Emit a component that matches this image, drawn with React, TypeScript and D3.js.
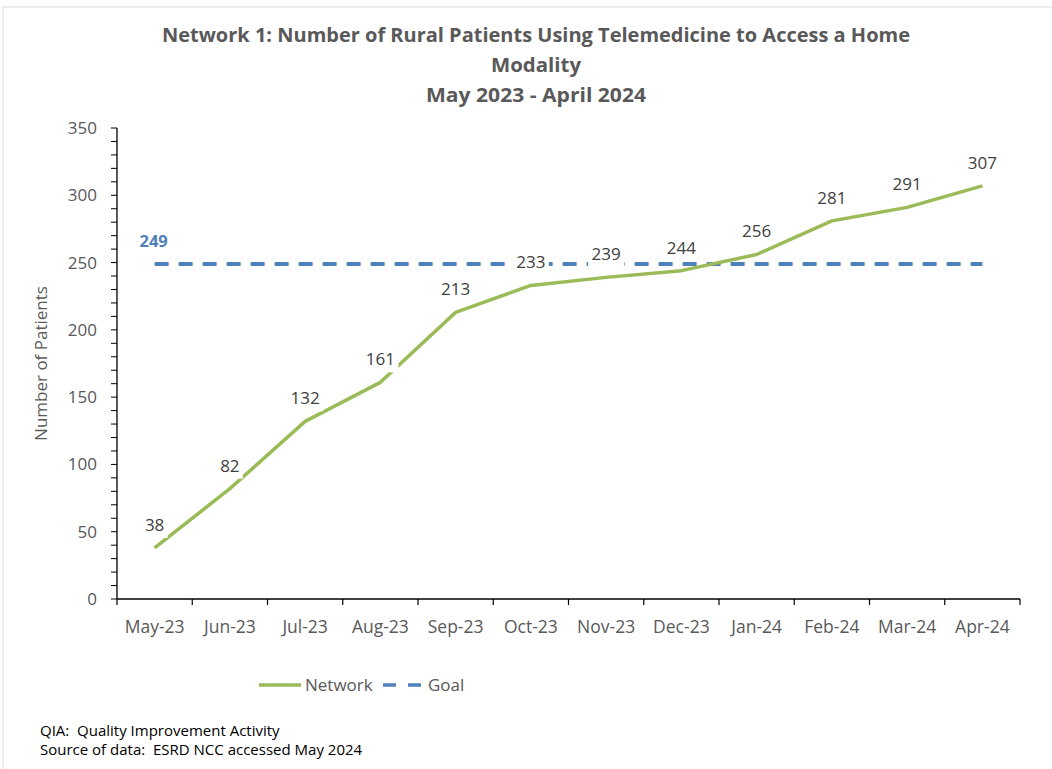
import React from 'react';
import * as d3 from 'd3';

const months = ['May-23', 'Jun-23', 'Jul-23', 'Aug-23', 'Sep-23', 'Oct-23', 'Nov-23', 'Dec-23', 'Jan-24', 'Feb-24', 'Mar-24', 'Apr-24'];
const network = [38, 82, 132, 161, 213, 233, 239, 244, 256, 281, 291, 307];
const goal = [249, 249, 249, 249, 249, 249, 249, 249, 249, 249, 249, 249];
const yTicks = [0, 50, 100, 150, 200, 250, 300, 350];
const titleLines = ['Network 1: Number of Rural Patients Using Telemedicine to Access a Home', 'Modality', 'May 2023 - April 2024'];
const titleWidths = [748, 90, 220];

const GREEN = '#9BBB59';
const BLUE = '#4F81BD';
const GRAY = '#595959';
const FONT = 'Open Sans, Liberation Sans, sans-serif';

export default function App() {
  const width = 1052;
  const height = 769;
  const margin = { top: 128, right: 32, bottom: 170, left: 117 };

  const x = d3.scaleBand<string>()
    .domain(months)
    .range([margin.left, width - margin.right])
    .padding(0);
  const y = d3.scaleLinear()
    .domain([0, 350])
    .range([height - margin.bottom, margin.top]);

  const cx = (i: number) => (x(months[i]) || 0) + x.bandwidth() / 2;

  const line = d3.line<number>()
    .x((_, i) => cx(i))
    .y(d => y(d));

  const minorTicks = d3.range(0, 351, 10);
  const bandEdges = months.map(m => x(m) || 0).concat([width - margin.right]);

  // data label boxes (white backgrounds cut through the lines)
  const labelW = (s: string) => s.length * 10 + 6;

  return (
    <svg width={width} height={height} style={{ position: 'absolute', left: 0, top: 0, background: '#fff' }}>
      <rect x={3} y={7} width={width + 10} height={height + 10} fill="#fff" stroke="#d9d9d9" strokeWidth={1} />

      {/* title */}
      {titleLines.map((t, i) => (
        <text key={t} x={536} y={42 + i * 30} textAnchor="middle" fontFamily={FONT} fontWeight="bold"
          fontSize={20} fill={GRAY}
          textLength={titleWidths[i]} lengthAdjust="spacingAndGlyphs">{t}</text>
      ))}

      {/* axes */}
      <line x1={margin.left} x2={margin.left} y1={y(350)} y2={y(0)} stroke="#000" strokeWidth={1.3} />
      <line x1={margin.left} x2={width - margin.right} y1={y(0)} y2={y(0)} stroke="#000" strokeWidth={1.3} />
      {minorTicks.map(t => (
        <line key={'mt' + t} x1={margin.left - 6} x2={margin.left} y1={y(t)} y2={y(t)} stroke="#000" strokeWidth={1} />
      ))}
      {bandEdges.map((e, i) => (
        <line key={'xt' + i} x1={e} x2={e} y1={y(0)} y2={y(0) + 6} stroke="#000" strokeWidth={1.2} />
      ))}
      {yTicks.map(t => (
        <text key={'yl' + t} x={97} y={y(t) + 6} textAnchor="end" fontFamily={FONT} fontSize={17} fill={GRAY}>{t}</text>
      ))}
      {months.map((m, i) => (
        <text key={'xl' + m} x={cx(i)} y={633} textAnchor="middle" fontFamily={FONT} fontSize={17.5} fill={GRAY}>{m}</text>
      ))}
      <text transform={`translate(47,${(y(0) + y(350)) / 2}) rotate(-90)`} textAnchor="middle"
        fontFamily={FONT} fontSize={17} fill={GRAY}>Number of Patients</text>

      {/* series */}
      <path d={line(goal) || ''} fill="none" stroke={BLUE} strokeWidth={4} strokeDasharray="14 10" />
      <path d={line(network) || ''} fill="none" stroke={GREEN} strokeWidth={3.5} strokeLinejoin="round" />

      {/* data labels */}
      {network.map((v, i) => {
        const s = String(v);
        const w = labelW(s);
        return (
          <g key={'dl' + i}>
            <rect x={cx(i) - w / 2} y={y(v) - 36} width={w} height={26} fill="#fff" />
            <text x={cx(i)} y={y(v) - 17} textAnchor="middle" fontFamily={FONT} fontSize={17} fill="#404040">{s}</text>
          </g>
        );
      })}
      <text x={cx(0) - 1} y={y(goal[0]) - 17} textAnchor="middle" fontFamily={FONT} fontSize={16.5}
        fontWeight="bold" fill={BLUE}>{goal[0]}</text>

      {/* legend */}
      <line x1={259} x2={301} y1={685} y2={685} stroke={GREEN} strokeWidth={3.5} />
      <text x={305} y={691} fontFamily={FONT} fontSize={17} fill={GRAY}>Network</text>
      <line x1={383} x2={424} y1={685} y2={685} stroke={BLUE} strokeWidth={3.5} strokeDasharray="13 12" />
      <text x={428} y={691} fontFamily={FONT} fontSize={17} fill={GRAY}>Goal</text>

      {/* footnotes */}
      <text x={40} y={736} fontFamily={FONT} fontSize={15} fill="#000" xmlSpace="preserve">QIA:  Quality Improvement Activity</text>
      <text x={40} y={755} fontFamily={FONT} fontSize={15} fill="#000" xmlSpace="preserve">Source of data:  ESRD NCC accessed May 2024</text>
    </svg>
  );
}
